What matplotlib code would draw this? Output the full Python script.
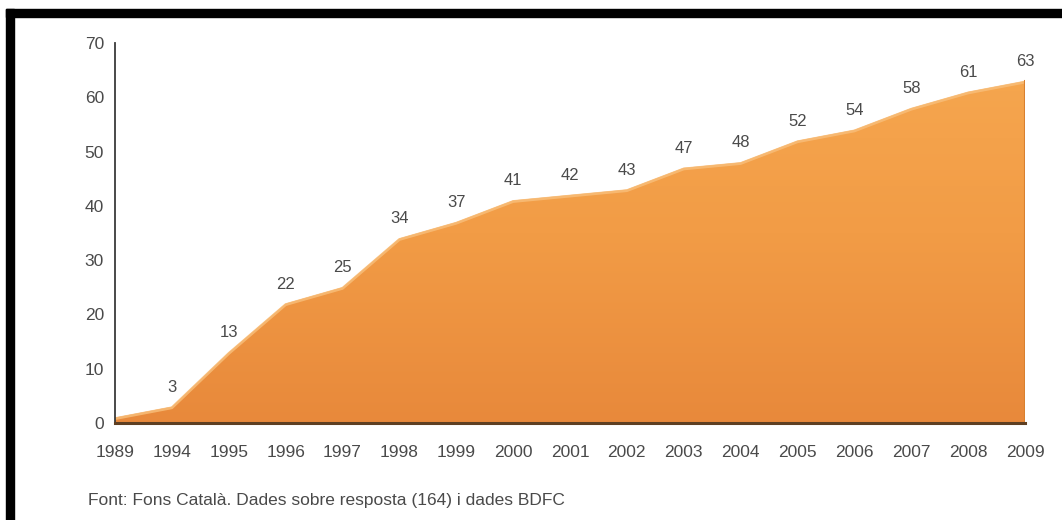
import numpy as np
import matplotlib as mpl
mpl.use("Agg")
import matplotlib.pyplot as plt
from matplotlib.colors import LinearSegmentedColormap
from matplotlib.patches import Rectangle

years  = ["1989", "1994", "1995", "1996", "1997", "1998", "1999", "2000", "2001",
          "2002", "2003", "2004", "2005", "2006", "2007", "2008", "2009"]
values = [1, 3, 13, 22, 25, 34, 37, 41, 42, 43, 47, 48, 52, 54, 58, 61, 63]
yticks = [0, 10, 20, 30, 40, 50, 60, 70]
source = "Font: Fons Català. Dades sobre resposta (164) i dades BDFC"

mpl.rc('font', family=['Liberation Sans', 'DejaVu Sans'])
txt = '#4a4a4a'

fig = plt.figure(figsize=(10.62, 5.2), dpi=100, facecolor='white')
W, H = 1062.0, 520.0
ax = fig.add_axes([115/W, 1-423/H, (1025-115)/W, (423-43)/H])

x = np.arange(len(years))
y = np.array(values, dtype=float)

# orange area with vertical gradient
poly = ax.fill_between(x, 0, y, color='none', lw=0)
cmap = LinearSegmentedColormap.from_list('org', ['#e8893b', '#f29c46', '#f6a850'])
grad = np.linspace(0, 1, 256).reshape(-1, 1)
im = ax.imshow(grad, cmap=cmap, aspect='auto', origin='lower',
               extent=[x[0], x[-1], 0, 70], zorder=1)
im.set_clip_path(poly.get_paths()[0], transform=ax.transData)

# soft pale rim along the top, shadow on the right side
ax.plot(x, y - 0.2, color='#f8bd78', lw=2, alpha=0.85, zorder=2, solid_capstyle='butt')
ax.plot([x[-1], x[-1]], [0, y[-1]], color='#d9802f', lw=1.5, zorder=2)

for xi, yi in zip(x[1:], values[1:]):
    ax.text(xi, yi + 2.2, str(yi), ha='center', va='bottom', fontsize=12, color=txt)

ax.set_xlim(x[0], x[-1])
ax.set_ylim(0, 70)
ax.set_yticks(yticks)
ax.set_xticks(x)
ax.set_xticklabels(years)
ax.tick_params(axis='both', length=0, labelsize=12.5, colors=txt)
ax.tick_params(axis='y', pad=8)
ax.tick_params(axis='x', pad=16)

for s in ['top', 'right']:
    ax.spines[s].set_visible(False)
ax.spines['left'].set_color('#3a3a3a')
ax.spines['left'].set_linewidth(1.3)
ax.spines['bottom'].set_color('#5e3f22')
ax.spines['bottom'].set_linewidth(2.2)
ax.spines['bottom'].set_zorder(3)
ax.patch.set_alpha(0)

fig.text(88/W, 1-500/H, source, ha='left', va='center', fontsize=12.5, color=txt)

# black frame on top and left
fig.patches.append(Rectangle((6/W, 0), 8/W, 1-9/H, transform=fig.transFigure,
                             color='black', zorder=10))
fig.patches.append(Rectangle((6/W, 1-17/H), 1-6/W, 8/H, transform=fig.transFigure,
                             color='black', zorder=10))

fig.savefig('out.png', dpi=100, facecolor='white')
